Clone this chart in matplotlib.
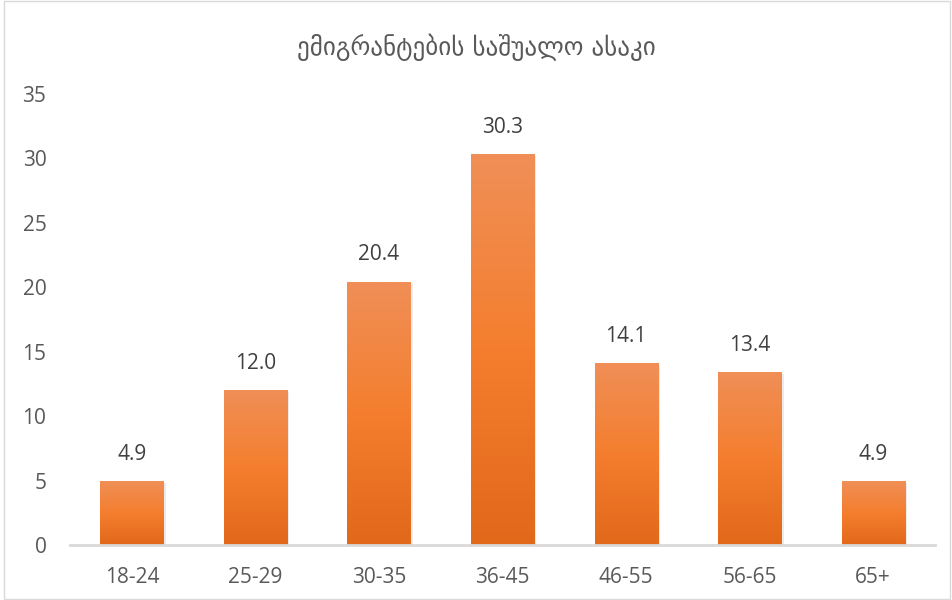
import numpy as np
import matplotlib.pyplot as plt
from matplotlib.colors import LinearSegmentedColormap
from matplotlib.patches import Rectangle

# data
categories = ["18-24", "25-29", "30-35", "36-45", "46-55", "56-65", "65+"]
values = [4.9, 12.0, 20.4, 30.3, 14.1, 13.4, 4.9]
yticks = [0, 5, 10, 15, 20, 25, 30, 35]
title = "ემიგრანტების საშუალო ასაკი"

plt.rcParams['font.family'] = ['Open Sans', 'DejaVu Sans']

fig = plt.figure(figsize=(9.53, 6), dpi=100)
ax = fig.add_axes([0.0735, 0.0917, 0.9075, 0.7516])

x = np.arange(len(categories))
bars = ax.bar(x, values, width=0.51, color="none", edgecolor="none", zorder=2)

# vertical gradient fill per bar (light top, darker bottom) + soft shadow
cmap = LinearSegmentedColormap.from_list("og", ["#E2681A", "#F47E2E", "#F08F57"])
grad = np.linspace(0, 1, 256).reshape(-1, 1)
for b in bars:
    x0, w, h = b.get_x(), b.get_width(), b.get_height()
    ax.add_patch(Rectangle((x0 + 0.02, 0), w, h - 0.1, facecolor="#000000",
                           alpha=0.08, edgecolor="none", zorder=1))
    ax.imshow(grad, extent=[x0, x0 + w, 0, h], origin="lower", cmap=cmap,
              aspect="auto", zorder=2)
    ax.text(b.get_x() + w / 2, h + 1.3, f"{h:.1f}", ha="center", va="bottom",
            fontsize=15, color="#404040")

ax.set_xlim(-0.5, len(categories) - 0.5)
ax.set_ylim(0, 35)
ax.set_xticks(x)
ax.set_xticklabels(categories)
ax.set_yticks(yticks)
ax.tick_params(axis="both", length=0, labelsize=15, colors="#595959")
ax.tick_params(axis="x", pad=16)
ax.tick_params(axis="y", pad=17)

for s in ["top", "right", "left"]:
    ax.spines[s].set_visible(False)
ax.spines["bottom"].set_color("#D9D9D9")
ax.spines["bottom"].set_linewidth(2)
ax.spines["bottom"].set_zorder(3)

fig.text(0.5, 0.922, title, ha="center", va="center", fontsize=18,
         color="#595959", family=["DejaVu Sans"])

# outer chart frame
fig.patches.append(Rectangle((0.004, 0.002), 0.993, 0.996, transform=fig.transFigure,
                             fill=False, edgecolor="#D9D9D9", linewidth=1))

fig.savefig("out.png", dpi=100)
